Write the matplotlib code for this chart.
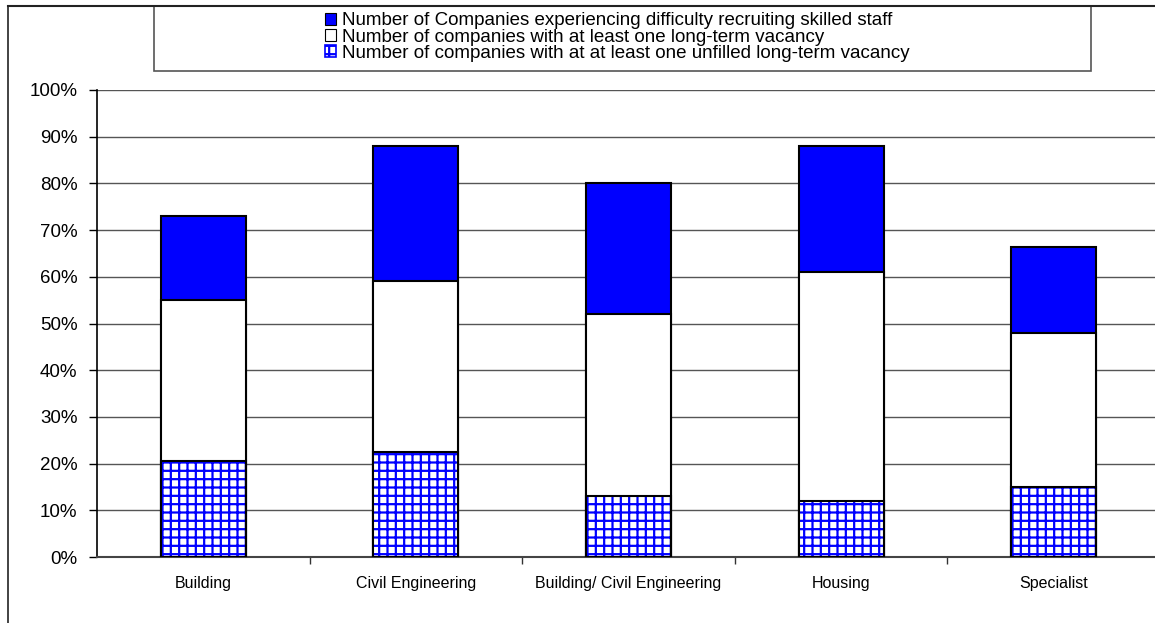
import matplotlib
matplotlib.use('Agg')
import matplotlib.pyplot as plt
from matplotlib.patches import Rectangle, Patch
from matplotlib.lines import Line2D
import numpy as np

plt.rcParams['font.family'] = ['Liberation Sans', 'DejaVu Sans']
plt.rcParams['hatch.linewidth'] = 1.6

# Data (percent of companies)
categories = ['Building', 'Civil Engineering', 'Building/ Civil Engineering', 'Housing', 'Specialist']
difficulty = [73, 88, 80, 88, 66.3]
long_term = [55, 59, 52, 61, 48]
unfilled = [20.5, 22.5, 13, 12, 15]

labels = ['Number of Companies experiencing difficulty recruiting skilled staff',
          'Number of companies with at least one long-term vacancy',
          'Number of companies with at at least one unfilled long-term vacancy']

W, H = 1155, 623
fig = plt.figure(figsize=(W / 100, H / 100), dpi=100)
ax = fig.add_axes([97 / W, 1 - 557 / H, 1063 / W, 467 / H])

x = np.arange(len(categories))
bw = 0.4
ax.bar(x, difficulty, bw, color='#0000ff', edgecolor='black', linewidth=1.5, zorder=3)
ax.bar(x, long_term, bw, color='white', edgecolor='black', linewidth=1.5, zorder=4)
ax.bar(x, unfilled, bw, color='white', edgecolor='#0000ff', hatch='++', linewidth=0, zorder=5)
ax.bar(x, unfilled, bw, color='none', edgecolor='black', linewidth=1.5, zorder=6)

ax.set_xlim(-0.5, len(categories) - 0.5)
ax.set_ylim(0, 100)
ax.set_yticks(np.arange(0, 101, 10))
ax.set_yticklabels([f'{v}%' for v in range(0, 101, 10)], fontsize=13.5)
ax.set_xticks(x)
ax.set_xticklabels(categories, fontsize=11.5)
ax.set_xticks(np.arange(0.5, len(categories) - 1, 1), minor=True)
ax.tick_params(axis='x', which='major', length=0, pad=14)
ax.tick_params(axis='x', which='minor', length=5, width=1, color='#333333', direction='out')
ax.tick_params(axis='y', length=6, width=1, direction='out', pad=8)
ax.yaxis.grid(True, color='#555555', linewidth=1, zorder=0)
ax.set_axisbelow(True)
for s in ['top', 'right']:
    ax.spines[s].set_visible(False)
ax.spines['left'].set_linewidth(1.2)
ax.spines['bottom'].set_color('#444444')
ax.spines['bottom'].set_linewidth(1.5)

# figure border (left and top visible)
fig.add_artist(Line2D([8 / W, 8 / W], [0, 1 - 6 / H], transform=fig.transFigure, color='#222222', lw=1.2))
fig.add_artist(Line2D([8 / W, 1], [1 - 6 / H, 1 - 6 / H], transform=fig.transFigure, color='#222222', lw=1.5))

# legend box
fig.add_artist(Rectangle((154 / W, 1 - 71 / H), (1091 - 154) / W, 65 / H, transform=fig.transFigure,
                         facecolor='white', edgecolor='#555555', lw=1.2))
handles = [Patch(facecolor='#0000ff', edgecolor='black', lw=0.8),
           Patch(facecolor='white', edgecolor='black', lw=0.8),
           Patch(facecolor='white', edgecolor='#0000ff', hatch='++', lw=1.2)]
fig.legend(handles, labels, loc='center', bbox_to_anchor=(617 / W, 1 - 37 / H), frameon=False,
           fontsize=13.5, handlelength=0.6, handleheight=0.6, handletextpad=0.3,
           labelspacing=-0.05, borderpad=0)

fig.savefig('out.png', dpi=100)
